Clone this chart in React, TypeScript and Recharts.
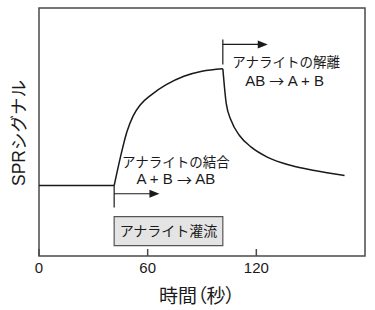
import React from "react";
import {
  LineChart,
  Line,
  XAxis,
  YAxis,
  ReferenceArea,
  ReferenceLine,
  ReferenceDot,
} from "recharts";

// time (s) and SPR signal (arbitrary units, 0-100)
const baselineTime = [0, 41.5];
const baselineSignal = [28.4, 28.4];
const associationTime = [41.5, 45, 48.5, 52, 56, 62, 70, 80, 90, 101.5];
const associationSignal = [28.4, 40, 50, 56.5, 61, 65, 69, 72.5, 74.5, 75.5];
const dissociationTime = [101.5, 102.4, 103.4, 106.1, 110.7, 117.2, 126.3, 139.3, 152.1, 168.7];
const dissociationSignal = [75.5, 68.1, 61.4, 54.6, 48.6, 43.9, 39.8, 36.5, 34.5, 32.5];

const xTicks = [0, 60, 120];
const injectionStart = 41.5;
const injectionEnd = 101.5;

const zip = (t: number[], v: number[]) => t.map((x, i) => ({ t: x, v: v[i] }));
const baseline = zip(baselineTime, baselineSignal);
const association = zip(associationTime, associationSignal);
const dissociation = zip(dissociationTime, dissociationSignal);

const ink = "#1a1a1a";
const frame = "#4a4a4a";
const font = "'Liberation Sans', Arial, 'Noto Sans CJK JP', sans-serif";
const cjk = "'Noto Sans CJK JP', sans-serif";

const Tick = (props: any) => {
  const { x, y, payload } = props;
  return (
    <g>
      <line x1={x} x2={x} y1={y - 7} y2={y} stroke={frame} strokeWidth={1.5} />
      <text x={x} y={y + 17} textAnchor="middle" fontSize={15} fill={ink}>
        {payload.value}
      </text>
    </g>
  );
};

const arrowHead = (p: any) => (
  <polygon
    points={`${p.cx},${p.cy} ${p.cx - 10},${p.cy - 4} ${p.cx - 10},${p.cy + 4}`}
    fill={ink}
  />
);

// render "→" with the CJK font so it is as wide as in the source
const withArrow = (text: string) =>
  text.split("→").flatMap((part, i) =>
    i === 0
      ? [part]
      : [
          <tspan key={i} fontFamily={cjk}>
            →
          </tspan>,
          part,
        ]
  );

const note = (text: string, size = 13.5) => (p: any) => (
  <text
    x={p.cx}
    y={p.cy}
    textAnchor="middle"
    dominantBaseline="central"
    fontSize={size}
    fill={ink}
  >
    {withArrow(text)}
  </text>
);

export default function App() {
  return (
    <div style={{ position: "absolute", left: 0, top: 0, fontFamily: font }}>
      <LineChart
        width={375}
        height={310}
        margin={{ top: 8, right: 10, left: 0, bottom: 0 }}
      >
        <XAxis
          dataKey="t"
          type="number"
          domain={[0, 180]}
          ticks={xTicks}
          axisLine={false}
          tickLine={false}
          tickSize={0}
          tickMargin={0}
          height={54}
          tick={<Tick />}
          label={{
            content: (p: any) => {
              const { x, y, width } = p.viewBox;
              return (
                <text
                  x={x + width / 2 - 5}
                  y={y + 47}
                  textAnchor="middle"
                  fontSize={19}
                  fill={ink}
                  style={{ fontFamily: cjk, fontFeatureSettings: '"palt"' }}
                >
                  時間（秒）
                </text>
              );
            },
          }}
        />
        <YAxis
          type="number"
          domain={[0, 100]}
          width={39}
          axisLine={false}
          tickLine={false}
          tick={false}
          label={{
            content: (p: any) => {
              const { y, height } = p.viewBox;
              const cy = y + height / 2 + 1;
              return (
                <text
                  x={19}
                  y={cy}
                  transform={`rotate(-90 19 ${cy})`}
                  textAnchor="middle"
                  dominantBaseline="central"
                  fontSize={17.5}
                  fill={ink}
                >
                  SPRシグナル
                </text>
              );
            },
          }}
        />
        <ReferenceArea
          x1={0}
          x2={180}
          y1={0}
          y2={100}
          fill="none"
          stroke={frame}
          strokeWidth={1.5}
        />
        <ReferenceArea
          x1={injectionStart}
          x2={injectionEnd}
          y1={4.2}
          y2={15.9}
          fill="#e4e4e4"
          fillOpacity={1}
          stroke="#555"
          strokeWidth={1.2}
          label={{ value: "アナライト灌流", position: "center", fontSize: 14, fill: ink }}
        />
        <ReferenceLine
          segment={[{ x: injectionStart, y: 28.4 }, { x: injectionStart, y: 19.6 }]}
          stroke={ink}
          strokeWidth={1.2}
        />
        <ReferenceLine
          segment={[{ x: injectionStart, y: 25.1 }, { x: 62, y: 25.1 }]}
          stroke={ink}
          strokeWidth={1.2}
        />
        <ReferenceDot x={66.5} y={25.1} r={0} shape={arrowHead} />
        <ReferenceLine
          segment={[{ x: injectionEnd, y: 87.3 }, { x: injectionEnd, y: 77.2 }]}
          stroke={ink}
          strokeWidth={1.2}
        />
        <ReferenceLine
          segment={[{ x: injectionEnd, y: 85.3 }, { x: 122, y: 85.3 }]}
          stroke={ink}
          strokeWidth={1.2}
        />
        <ReferenceDot x={126.3} y={85.3} r={0} shape={arrowHead} />
        <ReferenceDot x={75.6} y={37.9} r={0} shape={note("アナライトの結合")} />
        <ReferenceDot x={75.6} y={31.2} r={0} shape={note("A + B → AB", 15)} />
        <ReferenceDot x={136.5} y={78.2} r={0} shape={note("アナライトの解離")} />
        <ReferenceDot x={135.6} y={70.8} r={0} shape={note("AB → A + B", 15)} />
        <Line
          data={baseline}
          dataKey="v"
          type="linear"
          stroke={ink}
          strokeWidth={1.5}
          dot={false}
          isAnimationActive={false}
        />
        <Line
          data={association}
          dataKey="v"
          type="monotone"
          stroke={ink}
          strokeWidth={1.5}
          dot={false}
          isAnimationActive={false}
        />
        <Line
          data={dissociation}
          dataKey="v"
          type="monotone"
          stroke={ink}
          strokeWidth={1.5}
          dot={false}
          isAnimationActive={false}
        />
      </LineChart>
    </div>
  );
}
